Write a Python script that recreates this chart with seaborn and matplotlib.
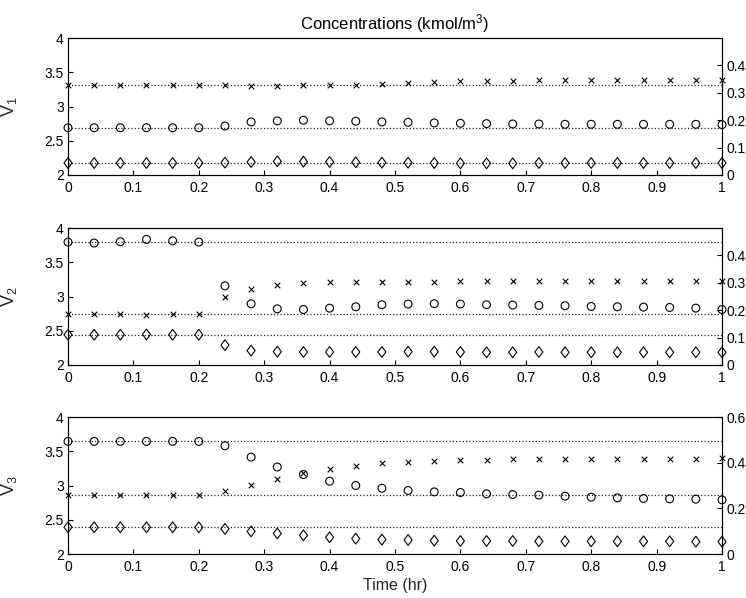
import matplotlib

matplotlib.use("Agg")
import matplotlib.pyplot as plt
import pandas as pd
import seaborn as sns
from matplotlib.path import Path

time_hr = [0.00, 0.04, 0.08, 0.12, 0.16, 0.20, 0.24, 0.28, 0.32, 0.36, 0.40, 0.44, 0.48,
           0.52, 0.56, 0.60, 0.64, 0.68, 0.72, 0.76, 0.80, 0.84, 0.88, 0.92, 0.96, 1.00]

v1_cross = [3.32, 3.32, 3.32, 3.32, 3.32, 3.32, 3.315, 3.30, 3.30, 3.31, 3.315, 3.32, 3.335,
            3.35, 3.36, 3.365, 3.37, 3.375, 3.38, 3.38, 3.385, 3.385, 3.385, 3.39, 3.39, 3.39]
v1_circle = [2.69, 2.69, 2.69, 2.69, 2.69, 2.69, 2.715, 2.775, 2.79, 2.80, 2.79, 2.785, 2.775,
             2.77, 2.76, 2.755, 2.75, 2.745, 2.745, 2.74, 2.74, 2.74, 2.74, 2.74, 2.74, 2.735]
v1_diamond = [2.175, 2.175, 2.175, 2.175, 2.175, 2.175, 2.18, 2.19, 2.20, 2.195, 2.19, 2.185, 2.18,
              2.18, 2.175, 2.17, 2.17, 2.17, 2.175, 2.175, 2.175, 2.175, 2.175, 2.175, 2.175, 2.175]
v1_ref = [3.32, 2.69, 2.175]

v2_cross = [2.747, 2.747, 2.747, 2.737, 2.747, 2.747, 2.99, 3.115, 3.175, 3.20, 3.21, 3.21, 3.215,
            3.215, 3.215, 3.22, 3.22, 3.22, 3.22, 3.22, 3.22, 3.22, 3.22, 3.22, 3.22, 3.22]
v2_circle = [3.794, 3.78, 3.80, 3.833, 3.813, 3.794, 3.155, 2.894, 2.82, 2.81, 2.83, 2.85, 2.88,
             2.89, 2.895, 2.89, 2.88, 2.875, 2.87, 2.865, 2.855, 2.85, 2.845, 2.84, 2.83, 2.81]
v2_diamond = [2.442, 2.442, 2.442, 2.447, 2.442, 2.442, 2.29, 2.21, 2.195, 2.19, 2.19, 2.19, 2.19,
              2.195, 2.195, 2.19, 2.185, 2.185, 2.19, 2.185, 2.185, 2.185, 2.185, 2.185, 2.185, 2.185]
v2_ref = [3.794, 2.747, 2.442]

v3_cross = [2.868, 2.868, 2.868, 2.868, 2.868, 2.868, 2.917, 3.005, 3.098, 3.18, 3.244, 3.288, 3.327,
            3.34, 3.356, 3.366, 3.376, 3.38, 3.385, 3.39, 3.39, 3.39, 3.39, 3.39, 3.39, 3.395]
v3_circle = [3.644, 3.644, 3.644, 3.644, 3.644, 3.644, 3.58, 3.415, 3.27, 3.16, 3.063, 3.0, 2.96,
             2.927, 2.907, 2.898, 2.878, 2.868, 2.86, 2.844, 2.83, 2.82, 2.81, 2.805, 2.80, 2.79]
v3_diamond = [2.39, 2.39, 2.39, 2.39, 2.39, 2.39, 2.366, 2.33, 2.30, 2.273, 2.244, 2.224, 2.21,
              2.205, 2.195, 2.19, 2.19, 2.19, 2.185, 2.185, 2.185, 2.185, 2.185, 2.185, 2.18, 2.18]
v3_ref = [3.644, 2.868, 2.39]

panel_labels = ["V$_1$", "V$_2$", "V$_3$"]
left_ticks = [2, 2.5, 3, 3.5, 4]
left_ticklabels = ["2", "2.5", "3", "3.5", "4"]
x_ticks = [0, 0.1, 0.2, 0.3, 0.4, 0.5, 0.6, 0.7, 0.8, 0.9, 1]
x_ticklabels = ["0", "0.1", "0.2", "0.3", "0.4", "0.5", "0.6", "0.7", "0.8", "0.9", "1"]
right_ticks = [[0, 0.1, 0.2, 0.3, 0.4], [0, 0.1, 0.2, 0.3, 0.4], [0, 0.2, 0.4, 0.6]]
right_ticklabels = [["0", "0.1", "0.2", "0.3", "0.4"], ["0", "0.1", "0.2", "0.3", "0.4"],
                    ["0", "0.2", "0.4", "0.6"]]
right_top = [0.5, 0.5, 0.6]

# MATLAB-like diamond: a bit narrower than tall, but wider than matplotlib's 'd'
diamond_marker = Path(
    [(0, 1), (0.75, 0), (0, -1), (-0.75, 0), (0, 1)],
    [Path.MOVETO, Path.LINETO, Path.LINETO, Path.LINETO, Path.CLOSEPOLY],
)

sns.set_theme(style="ticks")
plt.rcParams.update(
    {
        "font.family": ["Liberation Sans", "DejaVu Sans"],
        "mathtext.fontset": "custom",
        "mathtext.rm": "Liberation Sans",
        "mathtext.it": "Liberation Sans",
        "xtick.direction": "in",
        "ytick.direction": "in",
        "xtick.major.size": 3.5,
        "ytick.major.size": 3.5,
        "xtick.major.width": 0.8,
        "ytick.major.width": 0.8,
        "xtick.labelsize": 10,
        "ytick.labelsize": 10,
        "axes.linewidth": 0.8,
        "axes.edgecolor": "black",
        "xtick.color": "black",
        "ytick.color": "black",
        "text.color": "black",
    }
)

fig = plt.figure(figsize=(7.46, 5.98), dpi=100)
left, width, height = 68 / 746, 654 / 746, 137 / 598
bottoms = [1 - 175 / 598, 1 - 365 / 598, 1 - 554 / 598]

panels = [
    (v1_cross, v1_circle, v1_diamond, v1_ref),
    (v2_cross, v2_circle, v2_diamond, v2_ref),
    (v3_cross, v3_circle, v3_diamond, v3_ref),
]

for i, (cross, circle, diamond, ref) in enumerate(panels):
    ax = fig.add_axes([left, bottoms[i], width, height])
    for level in ref:
        ax.axhline(level, color="#222222", linestyle=":", linewidth=0.9, zorder=1)
    df = pd.DataFrame(
        {"t": time_hr, "cross": cross, "circle": circle, "diamond": diamond}
    )
    sns.scatterplot(data=df, x="t", y="cross", marker="x", s=16, color="black",
                    linewidth=0.8, ax=ax, zorder=3, clip_on=False)
    sns.scatterplot(data=df, x="t", y="circle", marker="o", s=32, facecolor="none",
                    edgecolor="black", linewidth=0.8, ax=ax, zorder=3, clip_on=False)
    sns.scatterplot(data=df, x="t", y="diamond", marker=diamond_marker, s=60,
                    facecolor="none", edgecolor="black", linewidth=0.8, ax=ax,
                    zorder=3, clip_on=False)
    ax.set_xlim(0, 1)
    ax.set_ylim(2, 4)
    ax.set_xticks(x_ticks)
    ax.set_xticklabels(x_ticklabels)
    ax.set_yticks(left_ticks)
    ax.set_yticklabels(left_ticklabels)
    ax.tick_params(axis="x", top=False, pad=4)
    ax.tick_params(axis="y", right=False, pad=3)
    ax.set_xlabel("")
    ax.set_ylabel(panel_labels[i], fontsize=13)
    ax.yaxis.set_label_coords(-0.075, 0.5)
    for side in ["top", "right", "left", "bottom"]:
        ax.spines[side].set_visible(True)

    ax2 = ax.twinx()
    ax2.set_ylim(0, right_top[i])
    ax2.set_yticks(right_ticks[i])
    ax2.set_yticklabels(right_ticklabels[i])
    ax2.tick_params(axis="y", direction="in", pad=3)

    if i == 0:
        ax.set_title("Concentrations (kmol/m$^3$)", fontsize=12, pad=6)
    if i == 2:
        ax.set_xlabel("Time (hr)", fontsize=11.5, labelpad=3)

fig.savefig("out.png", dpi=100)
